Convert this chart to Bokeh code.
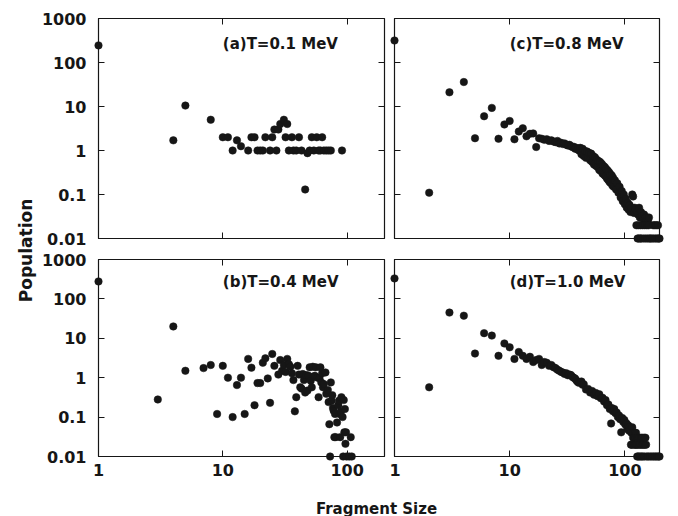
import math
from bokeh.plotting import figure
from bokeh.models import (LogAxis, FixedTicker, Label, Range1d, ColumnDataSource,
                          CustomLabelingPolicy)
from bokeh.layouts import row, column
from bokeh.embed import file_html
from bokeh.resources import INLINE

# ---------------- data ----------------
x_ticks = [1, 10, 100]
x_tick_labels = ["1", "10", "100"]
y_ticks = [0.01, 0.1, 1, 10, 100, 1000]
y_tick_labels = ["0.01", "0.1", "1", "10", "100", "1000"]
x_limits = (1, 200)
y_limits = (0.01, 1000)

panel_titles = ["(a)T=0.1 MeV", "(b)T=0.4 MeV", "(c)T=0.8 MeV", "(d)T=1.0 MeV"]
x_title = "Fragment Size"
y_title = "Population"

# (a) T = 0.1 MeV
a_size = [1, 4, 5, 8, 10, 11, 12, 13, 14, 16, 17, 18, 19, 20, 21, 22, 24, 25, 26, 27,
          28, 29, 31, 32, 33, 34, 36, 37, 39, 41, 43, 46, 48, 50, 52, 54, 57, 59, 61, 63,
          65, 68, 71, 74, 91]
a_pop = [245, 1.7, 10.5, 5, 2, 2, 1, 1.7, 1.25, 1, 2, 2, 1, 1, 1, 2, 1, 2, 3, 1,
         3, 4, 5, 2, 4, 1, 2, 1, 1, 2, 1, 0.13, 0.87, 1, 2, 1, 2, 1, 1, 2,
         1, 1, 1, 1, 1]

# (b) T = 0.4 MeV
b_size = [1, 3, 4, 5, 7, 8, 9, 10, 11, 12, 13, 14, 15, 16, 17, 18, 19, 20, 21, 22,
          23, 24, 25, 26, 28, 29, 30, 31, 32, 33, 34, 35, 36, 37, 38, 39, 40, 41, 42, 43,
          44, 45, 46, 47, 48, 49, 50, 51, 52, 53, 54, 55, 56, 58, 59, 60, 61, 62, 63, 64,
          65, 67, 68, 70, 71, 72, 73, 74, 75, 76, 77, 78, 79, 80, 81, 83, 85, 86, 87, 88,
          89, 90, 92, 93, 94, 95, 96, 97, 98, 99, 104, 107, 109]
b_pop = [277, 0.28, 20, 1.5, 1.75, 2.1, 0.12, 2.0, 1.0, 0.10, 0.65, 1.0, 0.12, 3.0, 1.8, 0.2, 0.73, 0.73, 2.4, 3.1,
         0.96, 0.23, 4.0, 2.0, 1.2, 2.8, 1.5, 2.1, 1.4, 3.0, 2.2, 1.9, 1.3, 0.87, 0.14, 0.32, 2.0, 1.2, 0.57, 0.53,
         1.24, 0.87, 0.42, 1.17, 0.47, 1.12, 1.83, 0.84, 0.57, 1.9, 1.06, 1.12, 1.83, 1.0, 0.32, 0.98, 1.83, 0.76, 1.3, 0.57,
         0.69, 1.36, 0.39, 0.49, 0.24, 0.066, 0.01, 0.76, 0.26, 0.36, 0.17, 0.145, 0.031, 0.12, 0.031, 0.073, 0.2, 0.26, 0.12, 0.031,
         0.137, 0.32, 0.1, 0.01, 0.27, 0.041, 0.16, 0.021, 0.041, 0.01, 0.01, 0.031, 0.01]

# (c) T = 0.8 MeV
c_size = [1, 2, 3, 4, 5, 6, 7, 8, 9, 10, 11, 12, 13, 14, 15, 16, 17, 18, 19, 20,
          21, 22, 23, 24, 25, 26, 27, 28, 29, 30, 31, 32, 33, 34, 35, 36, 37, 38, 39, 40,
          41, 42, 43, 44, 45, 46, 47, 48, 49, 50, 51, 52, 53, 54, 55, 56, 57, 58, 59, 60,
          61, 62, 63, 64, 65, 66, 67, 68, 69, 70, 71, 72, 73, 74, 75, 76, 77, 78, 79, 80,
          82, 84, 86, 88, 90, 92, 94, 96, 98, 100, 102, 104, 106, 108, 110, 112, 114, 116, 118, 120,
          122, 124, 127, 130, 133, 135, 138, 141, 144, 147, 150, 153, 156, 159, 162,
          126, 131, 137, 143, 149, 155, 161, 176, 182, 188, 194,
          129, 132, 136, 139, 145, 151, 157, 163, 167, 172, 178, 185, 191, 197, 200]
c_pop = [316, 0.11, 21, 36, 1.9, 6.0, 9.3, 1.85, 3.9, 4.7, 1.8, 2.7, 3.2, 2.1, 2.4, 2.45, 1.2, 1.9, 1.85, 1.75,
         1.8, 1.65, 1.7, 1.6, 1.55, 1.65, 1.45, 1.5, 1.4, 1.45, 1.35, 1.3, 1.35, 1.25, 1.2, 1.22, 1.1, 1.15, 1.05, 1.0,
         1.15, 0.82, 1.1, 0.75, 0.98, 0.68, 0.95, 0.7, 0.88, 0.6, 0.85, 0.55, 0.75, 0.48, 0.7, 0.45, 0.62, 0.42, 0.58, 0.36,
         0.55, 0.34, 0.5, 0.3, 0.45, 0.28, 0.42, 0.26, 0.38, 0.23, 0.35, 0.21, 0.32, 0.19, 0.29, 0.18, 0.27, 0.16, 0.24, 0.15,
         0.21, 0.13, 0.18, 0.11, 0.15, 0.085, 0.12, 0.07, 0.1, 0.06, 0.08, 0.05, 0.065, 0.045, 0.058, 0.04, 0.05, 0.1, 0.09, 0.038,
         0.05, 0.045, 0.04, 0.035, 0.05, 0.03, 0.04, 0.032, 0.028, 0.035, 0.03, 0.025, 0.03, 0.025, 0.03,
         0.02, 0.02, 0.02, 0.02, 0.02, 0.02, 0.02, 0.02, 0.02, 0.02, 0.02,
         0.01, 0.01, 0.01, 0.01, 0.01, 0.01, 0.01, 0.01, 0.01, 0.01, 0.01, 0.01, 0.01, 0.01, 0.01]

# (d) T = 1.0 MeV
d_size = [1, 2, 3, 4, 5, 6, 7, 8, 9, 10, 11, 12, 13, 14, 15, 16, 17, 18, 19, 20,
          21, 22, 23, 24, 25, 26, 27, 28, 29, 30, 31, 32, 33, 34, 35, 36, 37, 38, 39, 40,
          42, 43, 44, 46, 48, 50, 52, 54, 56, 58, 60, 62, 64, 66, 68, 70, 72, 74, 76, 77,
          79, 81, 83, 85, 87, 89, 91, 93, 95, 97, 99, 101, 103, 105, 107, 109, 110, 112, 114, 116,
          117, 119, 122, 125,
          118, 121, 124, 127, 130, 134, 138, 142, 147, 151,
          113, 115, 120, 123, 126, 129, 133, 137, 141, 145, 149, 153,
          128, 131, 135, 139, 143, 148, 155, 160, 166, 172, 178, 184, 190, 196, 200]
d_pop = [331, 0.57, 45, 37.5, 4.1, 13.5, 11.7, 3.6, 7.4, 5.9, 3.0, 4.5, 3.6, 3.0, 3.4, 2.5, 2.8, 3.0, 2.1, 2.5,
         2.4, 2.0, 2.1, 1.85, 1.75, 1.6, 1.5, 1.4, 1.35, 1.25, 1.3, 1.15, 1.2, 1.17, 1.05, 1.0, 0.95, 0.85, 0.78, 0.74,
         0.8, 0.66, 0.68, 0.5, 0.52, 0.42, 0.46, 0.37, 0.41, 0.34, 0.38, 0.3, 0.31, 0.25, 0.27, 0.2, 0.21, 0.16, 0.069, 0.17,
         0.14, 0.16, 0.125, 0.13, 0.1, 0.11, 0.088, 0.041, 0.095, 0.075, 0.085, 0.065, 0.07, 0.05, 0.062, 0.045, 0.055, 0.05, 0.04, 0.055,
         0.04, 0.04, 0.04, 0.04,
         0.03, 0.03, 0.03, 0.03, 0.03, 0.03, 0.03, 0.03, 0.03, 0.03,
         0.02, 0.02, 0.02, 0.02, 0.02, 0.02, 0.02, 0.02, 0.02, 0.02, 0.02, 0.02,
         0.01, 0.01, 0.01, 0.01, 0.01, 0.01, 0.01, 0.01, 0.01, 0.01, 0.01, 0.01, 0.01, 0.01, 0.01]

# ---------------- style ----------------
FONT = "DejaVu Sans"
INK = "#161616"
TITLE_Y = 270     # data y of panel captions (left edge at x = 10)
TITLE_X = 10


def style_axis(ax, ticks, labels, show):
    ax.ticker = FixedTicker(ticks=ticks)
    ax.minor_tick_line_color = None
    ax.major_tick_in = 6
    ax.major_tick_out = 0
    ax.major_tick_line_color = INK
    ax.major_tick_line_width = 1
    ax.axis_line_color = None
    if show:
        ax.major_label_overrides = {t: l for t, l in zip(ticks, labels)}
        ax.major_label_text_font = FONT
        ax.major_label_text_font_style = "bold"
        ax.major_label_text_font_size = "16px"
        ax.major_label_text_color = INK
    else:
        # tick marks only: no label is selected for drawing
        ax.major_label_policy = CustomLabelingPolicy(code="return []")
        ax.major_label_text_font_size = "1px"
        ax.major_label_standoff = 0


def make_panel(sizes, pops, caption, width, height, borders, show_x, show_y):
    left, right, top, bottom = borders
    p = figure(width=width, height=height, title=None,
               x_axis_type="log", y_axis_type="log",
               x_range=Range1d(*x_limits), y_range=Range1d(*y_limits),
               toolbar_location=None, output_backend="svg",
               min_border_left=left, min_border_right=right,
               min_border_top=top, min_border_bottom=bottom,
               outline_line_color=INK, outline_line_width=1.2,
               background_fill_color="white", border_fill_color="white")
    p.grid.visible = False
    style_axis(p.xaxis[0], x_ticks, x_tick_labels, show_x)
    style_axis(p.yaxis[0], y_ticks, y_tick_labels, show_y)
    if show_x:
        p.xaxis[0].major_label_standoff = 7
    if show_y:
        p.yaxis[0].major_label_standoff = 12
    ax_top = LogAxis()
    style_axis(ax_top, x_ticks, x_tick_labels, False)
    p.add_layout(ax_top, "above")
    ax_right = LogAxis()
    style_axis(ax_right, y_ticks, y_tick_labels, False)
    p.add_layout(ax_right, "right")

    src = ColumnDataSource(dict(size=sizes, pop=pops))
    p.scatter(x="size", y="pop", source=src, size=7.5, marker="circle",
              fill_color=INK, line_color=INK, line_width=0.5, level="overlay")
    p.add_layout(Label(x=TITLE_X, y=TITLE_Y, text=caption, text_align="left",
                       text_baseline="middle", text_font=FONT, text_font_style="bold",
                       text_font_size="15px", text_color=INK))
    return p


# borders: (left, right, top, bottom)
pa = make_panel(a_size, a_pop, panel_titles[0], 351, 248, (58, 1, 18, 10), False, True)
pc = make_panel(c_size, c_pop, panel_titles[2], 289, 248, (3, 19, 18, 10), False, False)
pb = make_panel(b_size, b_pop, panel_titles[1], 351, 236, (58, 1, 11, 28), True, True)
pd = make_panel(d_size, d_pop, panel_titles[3], 289, 236, (3, 19, 11, 28), True, False)


def text_figure(width, height):
    f = figure(width=width, height=height, title=None, toolbar_location=None,
               output_backend="svg", x_range=Range1d(0, 1), y_range=Range1d(0, 1),
               x_axis_location=None, y_axis_location=None, min_border=0,
               outline_line_color=None, background_fill_color="white",
               border_fill_color="white")
    f.grid.visible = False
    return f


ylab = text_figure(38, 484)
ylab.add_layout(Label(x=0.684, y=0.4835, text=y_title, angle=math.pi / 2,
                      text_align="center", text_baseline="middle", text_font=FONT,
                      text_font_style="bold", text_font_size="17px", text_color=INK))

xlab = text_figure(678, 32)
xlab.add_layout(Label(x=0.5546, y=0.25, text=x_title, text_align="center",
                      text_baseline="alphabetic", text_font=FONT,
                      text_font_style="bold", text_font_size="15px", text_color=INK))

layout = column(row(ylab, column(row(pa, pc), row(pb, pd))), xlab)

open("out.html", "w").write(file_html(layout, INLINE, "Fragment size distributions"))
